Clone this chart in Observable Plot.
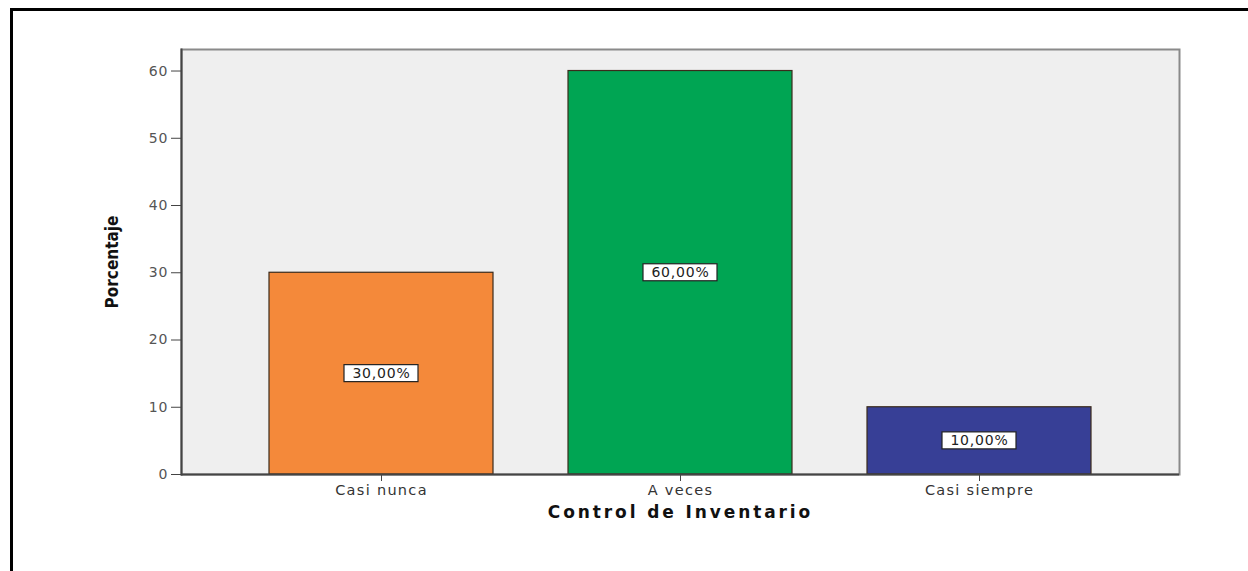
<!DOCTYPE html>
<html>
<head>
<meta charset="utf-8">
<script src="https://cdn.jsdelivr.net/npm/d3@7"></script>
<script src="https://cdn.jsdelivr.net/npm/@observablehq/plot@0.6"></script>
<style>
  html, body { margin: 0; padding: 0; background: #fff; overflow: hidden; width: 1248px; height: 571px; }
  #wrap { position: relative; width: 1248px; height: 571px; overflow: hidden; }
  .line { position: absolute; background: #000; }
  #chart { position: absolute; left: 0; top: 0; }
</style>
</head>
<body>
<div id="wrap">
  <div id="chart"></div>
  <div class="line" style="left:10px; top:8px; width:1238px; height:3px;"></div>
  <div class="line" style="left:10px; top:8px; width:3px; height:563px;"></div>
</div>
<script>
const categories = ["Casi nunca", "A veces", "Casi siempre"];
const percentages = [30, 60, 10];
const barColors = ["#F4893A", "#00A553", "#373F96"];
const yTicks = [0, 10, 20, 30, 40, 50, 60];
const xTitle = "Control de Inventario";
const yTitle = "Porcentaje";

const data = categories.map((c, i) => ({
  cat: c,
  pct: percentages[i],
  color: barColors[i],
  label: percentages[i].toFixed(2).replace(".", ",") + "%"
}));

const chart = Plot.plot({
  width: 1248,
  height: 571,
  marginLeft: 181,
  marginRight: 69,
  marginTop: 49,
  marginBottom: 97,
  x: { domain: categories, paddingInner: 0.25, paddingOuter: 0.29, label: null },
  y: { domain: [0, 63.2], label: null },
  color: { type: "identity" },
  style: { fontFamily: "DejaVu Sans", fontSize: "14px", color: "#333", background: "transparent" },
  marks: [
    Plot.frame({ fill: "#efefef", stroke: "#8a8a8a", strokeWidth: 2 }),
    Plot.barY(data, { x: "cat", y: "pct", fill: d => d.color, stroke: "#3b2b1b", strokeWidth: 1.2 }),
    Plot.rect(data, { x: "cat", y1: d => d.pct / 2, y2: d => d.pct / 2, insetLeft: 75, insetRight: 75, insetTop: -8.5, insetBottom: -8.5, fill: "white", stroke: "#222", strokeWidth: 1.2 }),
    Plot.text(data, { x: "cat", y: d => d.pct / 2, text: "label", fill: "#222", fontSize: 14, ariaDescription: "barlabel" }),
    Plot.ruleY([0], { stroke: "#444", strokeWidth: 2 }),
    Plot.frame({ anchor: "left", stroke: "#444", strokeWidth: 2 }),
    Plot.axisY({ ticks: yTicks, tickSize: 10, tickPadding: 3, label: null, stroke: "#444", fill: "#555", fontSize: 14 }),
    Plot.axisX({ tickSize: 7, tickPadding: 3, label: null, fontSize: 14.5, stroke: "#444", fill: "#333" }),
    Plot.text([xTitle], { frameAnchor: "bottom", dy: 43, fontWeight: "bold", fontSize: 17, fill: "#111", ariaDescription: "xtitle" }),
    Plot.text([yTitle], { frameAnchor: "left", textAnchor: "middle", dx: -69, rotate: -90, fontWeight: "bold", fontSize: 17, fontFamily: "DejaVu Sans Condensed", fontStretch: "condensed", fill: "#111" })
  ]
});
document.getElementById("chart").appendChild(chart);

// letter spacing to mimic the wide, stretched lettering of the original
d3.select(chart).selectAll('[aria-label="x-axis tick label"] text').style("letter-spacing", "1.3px");
d3.select(chart).selectAll('[aria-label="y-axis tick label"] text').style("letter-spacing", "1px");
d3.select(chart).selectAll('[aria-description="barlabel"] text').style("letter-spacing", "0.8px");
d3.select(chart).selectAll('[aria-description="xtitle"] text').style("letter-spacing", "2.9px");
</script>
</body>
</html>
